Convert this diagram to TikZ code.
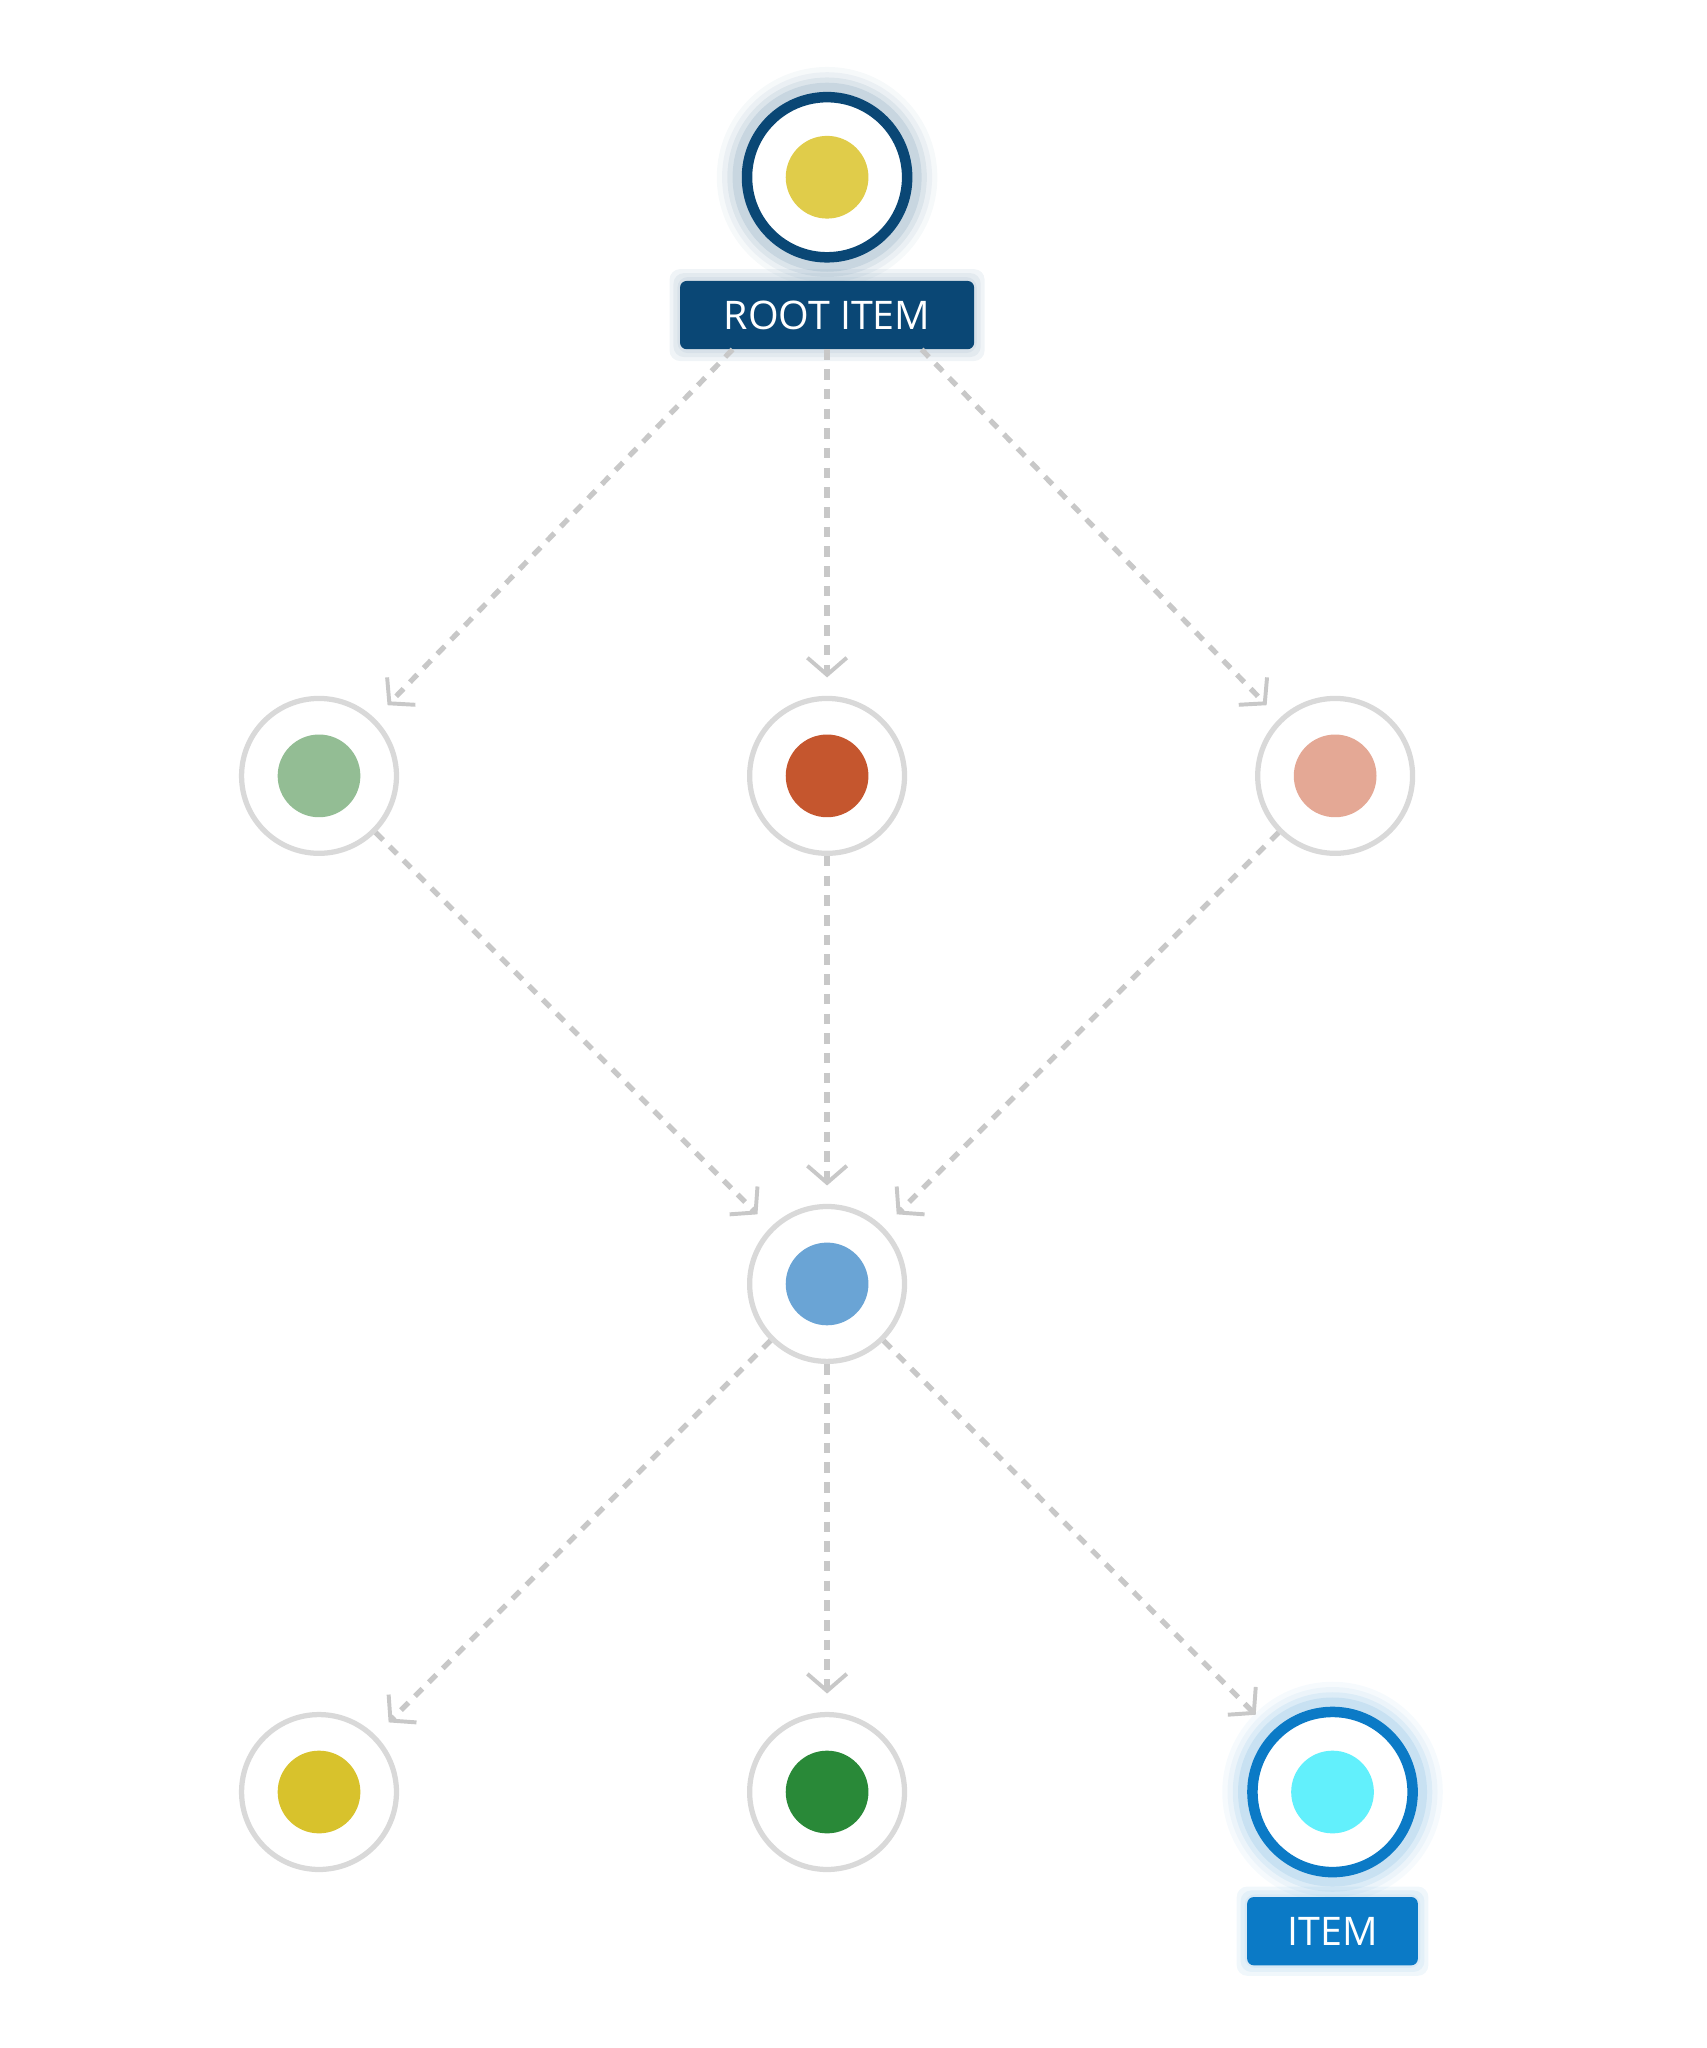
\documentclass[tikz,border=0pt]{standalone}
\usepackage{fontspec}
\setmainfont{Open Sans}
\usetikzlibrary{arrows.meta}
\definecolor{ring}{HTML}{D9D9D9}
\definecolor{edge}{HTML}{C8C8C8}
\definecolor{navy}{HTML}{0A4775}
\definecolor{itemblue}{HTML}{0B7AC6}
\definecolor{cRoot}{RGB}{224,204,74}
\definecolor{cA}{RGB}{147,189,148}
\definecolor{cB}{RGB}{197,86,46}
\definecolor{cC}{RGB}{228,168,149}
\definecolor{cM}{RGB}{106,164,213}
\definecolor{cD}{RGB}{216,194,44}
\definecolor{cE}{RGB}{41,137,56}
\definecolor{cF}{RGB}{98,240,252}
\begin{document}
\begin{tikzpicture}[x=1pt,y=-1pt,
  outer/.style={circle,draw=ring,line width=4pt,fill=white,minimum size=118pt,inner sep=0pt},
  dot/.style={circle,fill=#1,minimum size=63pt,inner sep=0pt},
  conn/.style={draw=edge,line width=4pt,dash pattern=on 8pt off 7pt,shorten >=14pt,
    -{Straight Barb[length=13pt,width=30pt,line width=3pt]}},
  lbl/.style={rounded corners=5pt,text=white,font=\fontsize{30}{30}\selectfont,inner xsep=18pt,minimum height=52pt}]
\useasboundingbox (0,0) rectangle (1300,1560);
\foreach \r/\o in {84/0.06,80/0.08,76/0.12,72/0.18}{
  \fill[navy!60,opacity=\o] (630,135) circle (\r);
  \fill[itemblue!60,opacity=\o] (1015,1365) circle (\r);}
\node[outer,draw=navy,line width=8pt,minimum size=122pt] (root) at (630,135) {};
\node[dot=cRoot] at (root) {};
\foreach \d in {8,5,2}{\fill[navy!50,opacity=0.12,rounded corners=8pt] (518-\d,213-\d) rectangle (742+\d,267+\d);
 \fill[itemblue!50,opacity=0.12,rounded corners=8pt] (950-\d,1445-\d) rectangle (1080+\d,1497+\d);}
\node[lbl,fill=navy,minimum width=224pt] (rootl) at (630,240) {ROOT ITEM};
\node[outer] (a) at (243,591) {}; \node[dot=cA] at (a) {};
\node[outer] (b) at (630,591) {}; \node[dot=cB] at (b) {};
\node[outer] (c) at (1017,591) {}; \node[dot=cC] at (c) {};
\node[outer] (m) at (630,978) {}; \node[dot=cM] at (m) {};
\node[outer] (d) at (243,1365) {}; \node[dot=cD] at (d) {};
\node[outer] (e) at (630,1365) {}; \node[dot=cE] at (e) {};
\node[outer,draw=itemblue,line width=8pt,minimum size=122pt] (f) at (1015,1365) {};
\node[dot=cF] at (f) {};
\node[lbl,fill=itemblue,minimum width=130pt] (fl) at (1015,1471) {ITEM};
\draw[conn] (rootl.-160) -- (a);
\draw[conn] (rootl) -- (b);
\draw[conn] (rootl.-20) -- (c);
\draw[conn] (a) -- (m);
\draw[conn] (b) -- (m);
\draw[conn] (c) -- (m);
\draw[conn] (m) -- (d);
\draw[conn] (m) -- (e);
\draw[conn,shorten >=18pt] (m) -- (f);
\end{tikzpicture}
\end{document}
